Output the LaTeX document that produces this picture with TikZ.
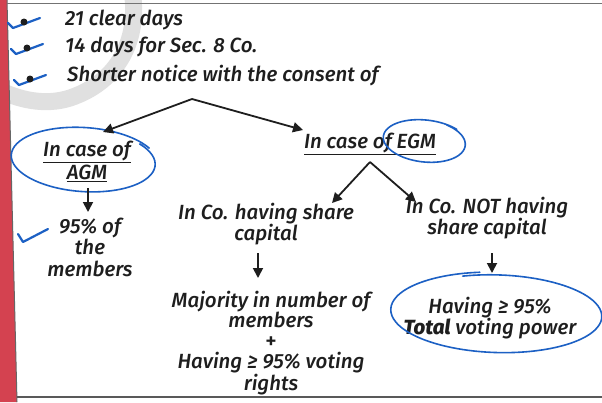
\documentclass[tikz,border=0pt]{standalone}
\usepackage{fontspec}
\setmainfont{Fira Sans}[UprightFont=* Medium, ItalicFont=* Medium Italic, BoldFont=* Bold, BoldItalicFont=* ExtraBold Italic]
\usetikzlibrary{arrows.meta}
\definecolor{ink}{RGB}{28,96,196}
\definecolor{pen}{RGB}{30,30,30}
\definecolor{margin}{RGB}{212,66,80}
\tikzset{
  txt/.style={font=\fontsize{20.5}{21.5}\selectfont\itshape, text=pen, inner sep=0pt, align=center},
  arr/.style={draw=pen, line width=1.8pt, -{Triangle[length=10pt,width=10pt]}},
  blueink/.style={draw=ink, line width=1.6pt, line cap=round, line join=round},
  tick/.style={blueink, line width=2.2pt},
  dot/.style={fill=pen, draw=none},
}
\begin{document}
\begin{tikzpicture}[x=1pt,y=-1pt]
\useasboundingbox (0,0) rectangle (602,402);
\fill[white] (0,0) rectangle (602,402);

% faint grey stroke printed behind the text
\draw[line width=17pt, black!12, line cap=round]
  (132,-10) .. controls (140,40) and (118,82) .. (70,98)
  .. controls (45,106) and (18,100) .. (-5,88);

% page edge: red margin strip and rules
\fill[margin] (0,0) -- (7,0) -- (17,402) -- (0,402) -- cycle;
\draw[black!60, line width=1pt] (7,0) -- (17,402);
\draw[black!55, line width=1pt] (7,3) -- (602,3);
\draw[black!65, line width=1.2pt] (17,397) -- (602,397);

% bullet list with ticks
\foreach \y/\dx in {22/0, 48/3, 79/6} {
  \draw[tick] (8+\dx,\y+1) -- (13+\dx,\y+6) -- (40+\dx,\y-4);
  \fill[dot] (24+\dx,\y) circle (3.5pt);
}
\node[txt, anchor=west] (days21) at (65,20) {21 clear days};
\node[txt, anchor=west] (days14) at (65,47) {14 days for Sec. 8 Co.};
\node[txt, anchor=west] (shorter) at (67,76) {Shorter notice with the consent of};

\coordinate (split1) at (192,99);

% AGM branch
\node[txt, font=\fontsize{20.5}{23}\selectfont\itshape] (agm) at (87,161) {\underline{In case of}\\\underline{AGM}};
\draw[blueink, rotate around={-4:(84,160)}]
  plot[smooth, domain=-40:330, samples=70]
  ({84+71*cos(\x)*(1+0.00012*(\x+40))}, {160+31*sin(\x)*(1+0.00015*(\x+40))});
\draw[arr] (split1) -- (103,132);

\node[txt] (agmpct) at (90,247) {95\% of\\the\\members};
\coordinate (agmA) at (88,188);
\coordinate (agmB) at (88,212);
\draw[arr] (agmA) -- (agmB);
\draw[tick] (18,234) -- (23,242) -- (48,229);

% EGM branch
\node[txt] (egm) at (370,144) {\underline{In case of EGM}};
\draw[blueink, rotate around={-6:(425,141)}]
  plot[smooth, domain=-60:315, samples=70]
  ({425+40*cos(\x)*(1+0.0002*(\x+60))}, {141+21*sin(\x)});
\draw[arr] (split1) -- (303,130);

\coordinate (split2) at (370,162);
\node[txt] (share) at (266,224) {In Co. having share\\capital};
\node[txt] (noshare) at (487,218) {In Co. NOT having\\share capital};
\draw[arr] (split2) -- (332,203);
\draw[arr] (split2) -- (416,202);

% results
\node[txt, font=\fontsize{20.5}{20.5}\selectfont\itshape] (majority) at (271,343)
  {Majority in number of\\members\\{\upshape\fontsize{22}{20.5}\selectfont +}\\Having ≥ 95\% voting\\rights};
\coordinate (shareA) at (258,253);
\coordinate (shareB) at (258,278);
\draw[arr] (shareA) -- (shareB);

\node[txt] (power) at (490,318) {Having ≥ 95\%\\{\bfseries Total} voting power};
\coordinate (nsA) at (492,253);
\coordinate (nsB) at (492,273);
\draw[arr] (nsA) -- (nsB);
\draw[blueink, rotate around={-2:(496,313)}]
  plot[smooth, domain=-110:260, samples=80]
  ({497+104*cos(\x)*(1+0.00008*(\x+110))}, {313+38*sin(\x)*(1+0.0002*(\x+110))});
\end{tikzpicture}
\end{document}
